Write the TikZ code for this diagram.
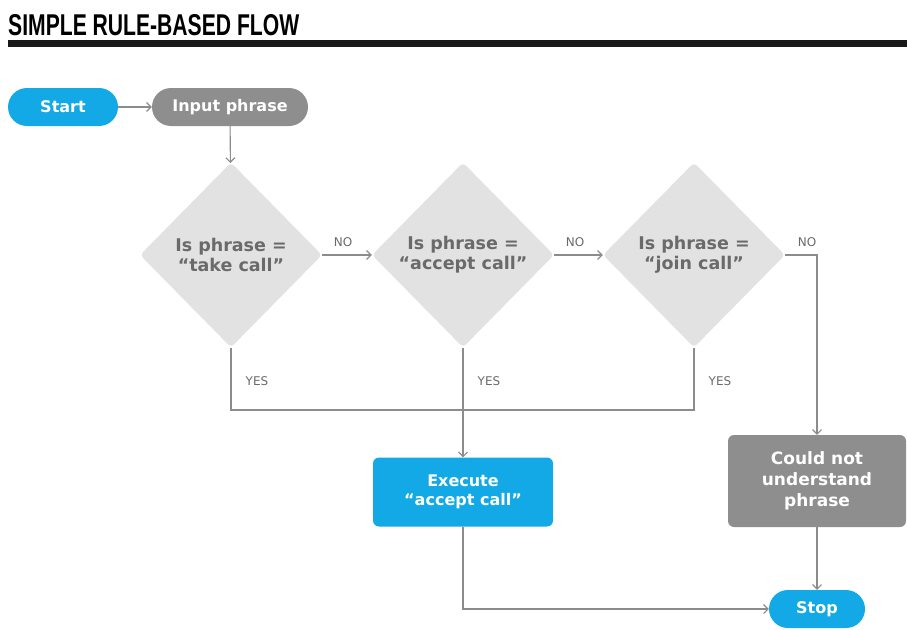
\documentclass[tikz,border=0pt]{standalone}
\usepackage{fontspec}
\setmainfont{DejaVu Sans}
\newfontfamily\titlefont{Liberation Sans}
\usetikzlibrary{shapes.geometric,arrows.meta}
\definecolor{cblue}{HTML}{12A9E6}
\definecolor{pillgray}{HTML}{8E8E8E}
\definecolor{dfill}{HTML}{E2E2E2}
\definecolor{dtext}{HTML}{6A6A6A}
\definecolor{lgray}{HTML}{8C8C8C}
\tikzset{
  pill/.style={rectangle, rounded corners=19pt, minimum height=38pt, text=white, font=\fontsize{16}{18}\selectfont\bfseries, inner sep=0pt},
  boxnode/.style={rectangle, rounded corners=6pt, text=white, align=center, inner sep=0pt},
  decision/.style={diamond, aspect=1, fill=dfill, minimum width=182pt, minimum height=185pt, inner sep=0pt, rounded corners=4pt, align=center, text=dtext, font=\fontsize{17.5}{20}\selectfont\bfseries},
  conn/.style={draw=lgray, line width=1.1pt},
  arr/.style={conn, -{Straight Barb[length=4.5pt,width=9pt]}},
  lab/.style={text=dtext, font=\fontsize{12}{14}\selectfont, inner sep=0pt}
}
\begin{document}
\begin{tikzpicture}[x=1pt,y=-1pt]
\useasboundingbox (0,0) rectangle (907,629);
% title
\node[anchor=north west, inner sep=0pt] (title) at (8,14) {\resizebox{291pt}{21pt}{\titlefont\bfseries SIMPLE RULE-BASED FLOW}};
\fill[black!90] (8,40) rectangle (907,47);
% nodes
\node[pill, fill=cblue, minimum width=110pt] (start) at (63,107) {Start};
\node[pill, fill=pillgray, minimum width=156pt] (input) at (230,107) {Input phrase};
\node[decision] (d1) at (231,255) {Is phrase =\\“take call”};
\node[decision] (d2) at (463,255) {Is phrase =\\“accept call”};
\node[decision] (d3) at (694,255) {Is phrase =\\“join call”};
\node[boxnode, fill=cblue, minimum width=180pt, minimum height=69pt, font=\fontsize{16}{19.5}\selectfont\bfseries] (exec) at (463,492) {Execute\\“accept call”};
\node[boxnode, fill=pillgray, minimum width=178pt, minimum height=92pt, font=\fontsize{17}{21}\selectfont\bfseries] (cn) at (817,481) {Could not\\understand\\phrase};
\node[pill, fill=cblue, minimum width=96pt] (stop) at (817,609) {Stop};
\coordinate (ncorner) at (817,255);
\coordinate (yl) at (231,410);
\coordinate (yr) at (694,410);
% connectors
\draw[arr] (start) -- (input);
\draw[arr] (input) -- (d1);
\draw[arr] (d1) -- (d2);
\draw[arr] (d2) -- (d3);
\draw[arr] (d3.east) -- (ncorner) -- (cn.north);
\draw[conn] (d1.south) -- (yl) -- (yr) -- (d3.south);
\draw[arr] (d2.south) -- (exec.north);
\draw[arr] (exec.south) |- (stop.west);
\draw[arr] (cn.south) -- (stop.north);
% labels
\node[lab] (no1) at (343,242) {NO};
\node[lab] (no2) at (575,242) {NO};
\node[lab] (no3) at (807,242) {NO};
\node[lab] (yes1) at (257,381) {YES};
\node[lab] (yes2) at (489,381) {YES};
\node[lab] (yes3) at (720,381) {YES};
\end{tikzpicture}
\end{document}
